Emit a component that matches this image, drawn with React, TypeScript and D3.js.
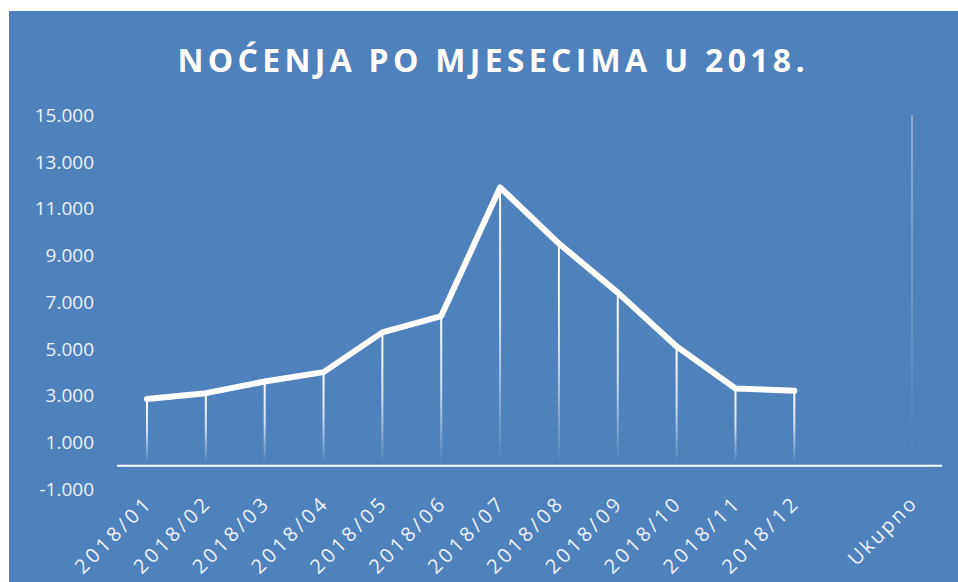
import React from "react";
import * as d3 from "d3";

const categories = [
  "2018/01", "2018/02", "2018/03", "2018/04", "2018/05", "2018/06",
  "2018/07", "2018/08", "2018/09", "2018/10", "2018/11", "2018/12", "", "Ukupno",
];
const values: (number | null)[] = [
  2850, 3100, 3600, 4000, 5700, 6400, 11900, 9500, 7400, 5100, 3300, 3200, null, 66050,
];
const yTicks = [-1000, 1000, 3000, 5000, 7000, 9000, 11000, 13000, 15000];
const title = "NOĆENJA PO MJESECIMA U 2018.";

const width = 958;
const height = 582;
const bg = "#4f81bd";

const App: React.FC = () => {
  const x = d3.scalePoint<string>()
    .domain(categories.map((c, i) => c || `_${i}`))
    .range([147, 912]);
  const y = d3.scaleLinear().domain([-1000, 15000]).range([489, 115]);
  const fmt = (v: number) => d3.format(",")(v).replace(/,/g, ".").replace("−", "-");

  const key = (i: number) => categories[i] || `_${i}`;
  const monthPts = values
    .map((v, i) => ({ v, i }))
    .filter(d => d.v !== null && d.i < 12) as { v: number; i: number }[];

  const line = d3.line<{ v: number; i: number }>()
    .x(d => x(key(d.i))!)
    .y(d => y(d.v));

  const y0 = y(0);

  return (
    <svg width={width} height={height} style={{ position: "absolute", left: 0, top: 0 }}>
      <defs>
        <linearGradient id="drop" x1="0" y1="0" x2="0" y2="1">
          <stop offset="0" stopColor="#fff" stopOpacity={1} />
          <stop offset="0.5" stopColor="#fff" stopOpacity={0.75} />
          <stop offset="1" stopColor="#fff" stopOpacity={0} />
        </linearGradient>
        <clipPath id="plot">
          <rect x={100} y={y(15000)} width={850} height={y0 - y(15000)} />
        </clipPath>
      </defs>
      <rect x={0} y={0} width={width} height={height} fill="#fff" />
      <rect x={9} y={11} width={width - 9} height={height - 11} fill={bg} />

      <text x={491} y={72} fill="#fff" textAnchor="middle" fontFamily="Open Sans"
        fontWeight="bold" fontSize={32} textLength={627} lengthAdjust="spacing">{title}</text>

      {yTicks.map(t => (
        <text key={t} x={94} y={y(t)} dy="0.36em" textAnchor="end" fill="#eef2f8"
          fontFamily="Open Sans" fontSize={19}>{fmt(t)}</text>
      ))}

      <g clipPath="url(#plot)">
        {values.map((v, i) => v === null ? null : (
          <rect key={i} x={x(key(i))! - 1} y={y(v)} width={2} height={y0 - 3 - y(v)}
            fill="url(#drop)" />
        ))}
      </g>

      <line x1={117} x2={942} y1={y0} y2={y0} stroke="#fff" strokeWidth={2} />

      <path d={line(monthPts) ?? ""} fill="none" stroke="#fff" strokeWidth={6}
        strokeLinejoin="round" strokeLinecap="round" />

      {categories.map((c, i) => c === "" ? null : (
        <text key={i} transform={`translate(${x(key(i))! + 7},${504}) rotate(-45)`}
          textAnchor="end" fill="#eef2f8" fontFamily="Open Sans" fontSize={20}
          letterSpacing={c === "Ukupno" ? 2.5 : 3.5}>{c}</text>
      ))}
    </svg>
  );
};

export default App;
